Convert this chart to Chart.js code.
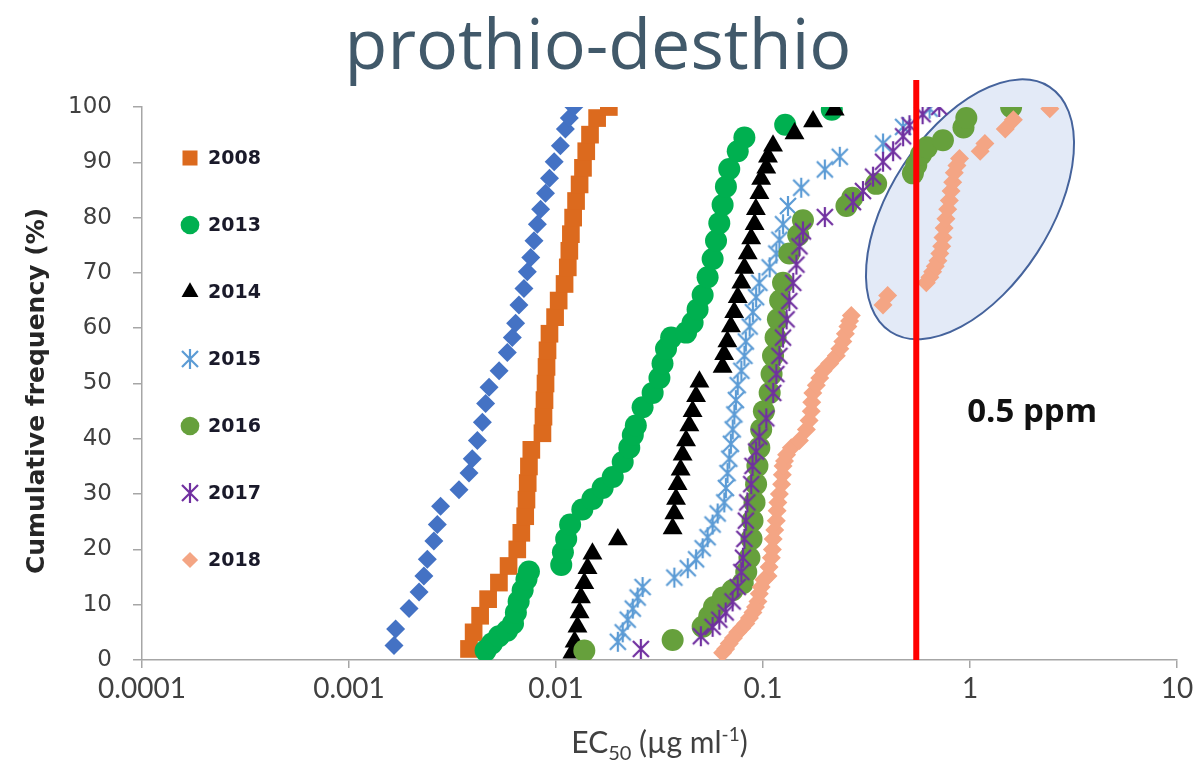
<!DOCTYPE html>
<html><head><meta charset="utf-8">
<script src="https://cdn.jsdelivr.net/npm/chart.js@4.4.0/dist/chart.umd.min.js"></script>
<style>html,body{margin:0;padding:0;background:#fff;}canvas{display:block;}</style>
</head><body>
<canvas id="c" width="1200" height="771" style="width:1200px;height:771px"></canvas>
<script>
// ---------- DATA ----------
const chartTitle = 'prothio-desthio';
const yAxisTitle = 'Cumulative frequency (%)';
const refLineValue = 0.55;
const refLineLabel = '0.5 ppm';
const xTickValues = [0.0001, 0.001, 0.01, 0.1, 1, 10];
const xTickLabels = ['0.0001', '0.001', '0.01', '0.1', '1', '10'];
const yTickValues = [0, 10, 20, 30, 40, 50, 60, 70, 80, 90, 100];
const seriesNames = ['baseline', '2008', '2013', '2014', '2015', '2016', '2017', '2018'];

const ecBase = [0.00165,0.00168,0.00195,0.00218,0.0023,0.00239,0.00257,0.00267,0.00277,0.0034,0.0038,0.00394,0.00417,0.00441,0.00457,0.00475,0.00531,0.00582,0.00615,0.00638,0.00662,0.0070,0.00727,0.00755,0.00783,0.00813,0.00843,0.0089,0.0093,0.0098,0.0105,0.0111,0.0116,0.0122];
const cfBase = [2.6,5.6,9.3,12.3,15.2,18.2,21.5,24.5,27.8,30.8,33.8,36.4,39.7,43.0,46.4,49.3,52.3,55.6,58.3,60.9,64.2,67.2,70.2,72.8,75.8,78.8,81.5,84.4,87.1,90.1,93,96,98,100];

const ec2008 = [0.0038,0.0040,0.0043,0.0047,0.0053,0.0059,0.0065,0.0068,0.0071,0.0072,0.0073,0.0074,0.0076,0.0086,0.0087,0.0088,0.0089,0.0090,0.0091,0.0093,0.0099,0.0103,0.0110,0.0114,0.0116,0.0118,0.0121,0.0125,0.0130,0.0135,0.0140,0.0146,0.0158,0.0180];
const cf2008 = [2,5,8,11,14,17,20,23,26,29,32,35,38,41,44,47,50,53,56,59,62,65,68,71,74,77,80,83,86,89,92,95,98,100];

const ec2013 = [0.00457,0.0049,0.0053,0.0058,0.0062,0.0064,0.0066,0.0069,0.0072,0.0074,0.0106,0.0108,0.0112,0.0117,0.0134,0.0150,0.0168,0.0188,0.0210,0.0226,0.0235,0.0243,0.0262,0.0293,0.0316,0.0327,0.0340,0.0360,0.0425,0.0457,0.0483,0.0511,0.0540,0.0571,0.0593,0.0615,0.0638,0.0662,0.0687,0.0755,0.0813,0.128,0.215];
const cf2013 = [1.7,3,4.3,5.3,6.6,8.6,10.6,12.6,14.6,16,17.2,19.5,21.9,24.5,27.2,29.1,31.1,33.1,35.8,38.4,40.7,42.4,45.7,48.3,51,53.6,56.3,58.3,59.2,61,63.4,66,69.2,72.5,75.8,79,82.3,85.6,88.8,92,94.5,96.8,99.5];

const ec2014 = [0.0120,0.0123,0.0127,0.0130,0.0132,0.0137,0.0142,0.0150,0.0199,0.0366,0.0373,0.0380,0.0387,0.0400,0.0409,0.0425,0.0441,0.0457,0.0475,0.0493,0.0638,0.0649,0.0673,0.0700,0.0726,0.0755,0.0786,0.0813,0.0844,0.0877,0.0911,0.0924,0.0961,0.0980,0.1037,0.1057,0.1118,0.142,0.1745,0.222];
const cf2014 = [1.3,3.3,6,8.6,11.3,13.9,16.6,19.2,21.8,23.8,26.5,29.1,31.8,34.4,37.1,39.7,42.4,45,47.7,50.3,53,55.3,57.6,60.3,62.9,65.6,68.2,70.9,73.5,76.2,78.8,81.5,84.4,87,89,91,93,95.2,97.4,99.5];

const ec2015 = [0.0199,0.0210,0.0222,0.0235,0.0248,0.0262,0.0373,0.0433,0.0475,0.0511,0.0540,0.0571,0.0604,0.0650,0.0662,0.0674,0.0687,0.0700,0.0714,0.0727,0.0740,0.0755,0.0786,0.0813,0.0826,0.0862,0.0894,0.0926,0.0960,0.1077,0.116,0.120,0.125,0.132,0.153,0.199,0.235,0.38,0.475,0.638];
const cf2015 = [3.3,5,7.3,9.3,11.3,13.2,14.9,16.6,18.2,20.2,22.2,24.5,26.5,28.5,31.1,33.8,36.4,39.1,41.7,44.4,47,49.7,52.3,55,57.6,60.3,62.9,65.6,68.2,71,73.5,76,78.8,82.1,85.4,88.7,91,93.4,96.4,99.7];

const ec2016 = [0.0137,0.0366,0.0511,0.0550,0.0580,0.0640,0.0713,0.0798,0.0830,0.0860,0.0880,0.0890,0.0910,0.0926,0.0940,0.0960,0.0980,0.1010,0.1077,0.1100,0.1118,0.115,0.118,0.121,0.125,0.134,0.148,0.156,0.253,0.270,0.352,0.53,0.55,0.58,0.62,0.74,0.93,0.96,1.58];
const cf2016 = [1.7,3.6,6,7.9,9.6,11.3,12.6,13.9,15.9,18.5,21.9,25.2,28.5,31.8,35.1,38.4,41.7,45,48.3,51.7,55,58.3,61.6,65,68.2,73.5,76.8,79.5,82.1,83.6,86.1,88,89.5,91.4,92.7,94,96.3,98,100];

const ec2017 = [0.0257,0.0501,0.0571,0.0615,0.0660,0.0713,0.0755,0.0786,0.0800,0.0813,0.0826,0.0840,0.0877,0.0890,0.0926,0.0960,0.1037,0.112,0.116,0.120,0.125,0.130,0.134,0.140,0.145,0.150,0.156,0.199,0.272,0.304,0.340,0.380,0.425,0.475,0.510,0.590,0.710];
const cf2017 = [2,4.3,6,7.3,8.6,10.6,13.2,15.9,18.5,21.9,25.2,28.5,31.8,35.1,37.7,40.4,43.7,48.3,51.7,55,58.3,61.6,64.9,68.2,71.5,74.8,77.5,80.1,82.8,84.8,87.4,90.1,92,94.7,96.7,98.7,100];

const ec2018 = [0.0638,0.066,0.0687,0.072,0.0755,0.079,0.0826,0.086,0.0894,0.092,0.0945,0.096,0.0980,0.101,0.1057,0.107,0.1097,0.111,0.112,0.114,0.116,0.117,0.118,0.120,0.123,0.124,0.125,0.127,0.130,0.137,0.150,0.162,0.167,0.171,0.172,0.174,0.181,0.188,0.195,0.210,0.226,0.235,0.243,0.250,0.257,0.262,0.267,0.38,0.40,0.615,0.64,0.66,0.68,0.70,0.715,0.73,0.74,0.75,0.765,0.78,0.795,0.81,0.825,0.84,0.865,0.89,1.12,1.18,1.48,1.62,2.43];
const cf2018 = [1.3,2,3,4,5,5.8,6.6,7.6,8.6,9.6,10.6,12,13.2,14.5,15.2,16.8,18.5,20,21.9,23.5,25.2,27,28.5,30,31.8,33.5,35.1,36,37.1,38.4,39.7,41.7,43.3,45,46.6,48.3,49.7,51,52.3,53.6,55,56.3,57.6,59,60.3,61.3,62.3,64.2,65.9,68.2,69.2,70.2,71.2,72.2,73.5,74.8,76.4,78.1,79.8,81.5,83.1,84.8,86.4,88.1,89.4,90.7,92,93.4,96,97.7,99.7];

// ---------- STYLE ----------
function makeStar(color) {
  const c = document.createElement('canvas');
  c.width = 22; c.height = 22;
  const g = c.getContext('2d');
  g.strokeStyle = color; g.lineWidth = 2.2; g.lineCap = 'butt';
  g.beginPath();
  g.moveTo(3, 3); g.lineTo(19, 19);
  g.moveTo(19, 3); g.lineTo(3, 19);
  g.moveTo(11, 1); g.lineTo(11, 21);
  g.stroke();
  return c;
}
const pts = (xs, ys) => xs.map((v, i) => ({x: v, y: ys[i]}));
const styles = [
  {color: '#4472c4', style: 'rectRot', r: 9.5},
  {color: '#dc6a1e', style: 'rect', r: 12.5},
  {color: '#00b050', style: 'circle', r: 11},
  {color: '#000000', style: 'triangle', r: 11.5},
  {color: '#5b9bd5', style: makeStar('#5b9bd5'), r: 11},
  {color: '#66a03c', style: 'circle', r: 11},
  {color: '#7030a0', style: makeStar('#7030a0'), r: 11},
  {color: '#f4a584', style: 'rectRot', r: 9.5}
];
const xs = [ecBase, ec2008, ec2013, ec2014, ec2015, ec2016, ec2017, ec2018];
const ys = [cfBase, cf2008, cf2013, cf2014, cf2015, cf2016, cf2017, cf2018];
const datasets = seriesNames.map((name, i) => ({
  label: name,
  data: pts(xs[i], ys[i]),
  showLine: false,
  pointStyle: styles[i].style,
  pointRadius: styles[i].r,
  pointHoverRadius: styles[i].r,
  backgroundColor: styles[i].color,
  borderColor: styles[i].color,
  borderWidth: 0,
  order: seriesNames.length - i
}));

const axisColor = '#a6a6a6';
const textColor = '#404040';

const deco = {
  id: 'deco',
  beforeDatasetsDraw(chart) {
    const {ctx, scales: {x, y}} = chart;
    const cx = x.getPixelForValue(1.0), cy = y.getPixelForValue(81.5);
    ctx.save();
    ctx.beginPath();
    ctx.ellipse(cx, cy, 146, 80, -57 * Math.PI / 180, 0, 2 * Math.PI);
    ctx.fillStyle = 'rgba(200,214,240,0.5)';
    ctx.fill();
    ctx.lineWidth = 2;
    ctx.strokeStyle = '#45639c';
    ctx.stroke();
    ctx.restore();
  },
  afterDatasetsDraw(chart) {
    const {ctx, chartArea, scales: {x, y}} = chart;
    const lx = x.getPixelForValue(refLineValue);
    ctx.save();
    ctx.strokeStyle = '#ff0000';
    ctx.lineWidth = 6;
    ctx.beginPath();
    ctx.moveTo(lx, chartArea.top - 27);
    ctx.lineTo(lx, chartArea.bottom);
    ctx.stroke();
    ctx.fillStyle = '#111';
    ctx.font = 'bold 33px "Open Sans"';
    ctx.textAlign = 'left';
    ctx.textBaseline = 'alphabetic';
    ctx.fillText(refLineLabel, lx + 51, y.getPixelForValue(43));
    // legend
    let k = 0;
    for (let i = 1; i < datasets.length; i++) {
      const ly = chartArea.top + 51 + k * 67;
      const lxm = chartArea.left + 48;
      ctx.fillStyle = styles[i].color;
      ctx.strokeStyle = styles[i].color;
      Chart.helpers.drawPoint(ctx, {pointStyle: styles[i].style, radius: styles[i].r * 0.85, rotation: 0, borderWidth: 0}, lxm, ly);
      ctx.fillStyle = '#1a1a2a';
      ctx.font = 'bold 19px "DejaVu Sans"';
      ctx.textAlign = 'left';
      ctx.textBaseline = 'middle';
      ctx.fillText(seriesNames[i], lxm + 18, ly + 1);
      k++;
    }
    ctx.restore();
  },
  afterDraw(chart) {
    const {ctx, chartArea} = chart;
    ctx.save();
    ctx.fillStyle = '#41596a';
    ctx.font = '400 70px "Open Sans"';
    ctx.textAlign = 'center';
    ctx.textBaseline = 'alphabetic';
    ctx.fillText(chartTitle, 598, 69);
    ctx.translate(37, 391);
    ctx.rotate(-Math.PI / 2);
    ctx.fillStyle = '#262626';
    ctx.font = 'bold 25px "DejaVu Sans"';
    ctx.textBaseline = 'middle';
    ctx.fillText(yAxisTitle, 0, 0);
    ctx.restore();
    ctx.save();
    ctx.fillStyle = textColor;
    ctx.textBaseline = 'alphabetic';
    ctx.textAlign = 'left';
    const parts = [
      {t: 'EC', f: '30px Lato', dy: 0},
      {t: '50', f: '20px Lato', dy: 7},
      {t: ' (µg ml', f: '30px Lato', dy: 0},
      {t: '-1', f: '19px Lato', dy: -12},
      {t: ')', f: '30px Lato', dy: 0}
    ];
    let w = 0;
    parts.forEach(p => { ctx.font = p.f; p.w = ctx.measureText(p.t).width; w += p.w; });
    let px = (chartArea.left + chartArea.right) / 2 - w / 2;
    const base = 753;
    parts.forEach(p => { ctx.font = p.f; ctx.fillText(p.t, px, base + p.dy); px += p.w; });
    ctx.restore();
  }
};

new Chart(document.getElementById('c'), {
  type: 'scatter',
  data: {datasets},
  plugins: [deco],
  options: {
    responsive: false,
    animation: false,
    events: [],
    layout: {padding: {left: 0, right: 23, top: 107, bottom: 0}},
    plugins: {legend: {display: false}, tooltip: {enabled: false}, title: {display: false}},
    scales: {
      x: {
        type: 'logarithmic',
        min: xTickValues[0],
        max: xTickValues[xTickValues.length - 1],
        afterBuildTicks: s => { s.ticks = xTickValues.map(v => ({value: v, major: false})); },
        afterFit: s => { s.height = 111; },
        ticks: {
          callback: (v, i) => xTickLabels[i],
          font: {family: 'Lato', size: 28},
          color: textColor,
          padding: 4,
          maxRotation: 0,
          autoSkip: false
        },
        grid: {drawOnChartArea: false, drawTicks: true, tickLength: 8, color: axisColor, lineWidth: 1.5},
        border: {color: axisColor, width: 1.5}
      },
      y: {
        min: 0,
        max: 100,
        afterBuildTicks: s => { s.ticks = yTickValues.map(v => ({value: v})); },
        afterFit: s => { s.width = 142; },
        ticks: {
          font: {family: 'DejaVu Sans', size: 23},
          color: textColor,
          padding: 21
        },
        grid: {drawOnChartArea: false, drawTicks: true, tickLength: 9, color: axisColor, lineWidth: 1.5},
        border: {color: axisColor, width: 1.5}
      }
    }
  }
});
</script>
</body></html>
